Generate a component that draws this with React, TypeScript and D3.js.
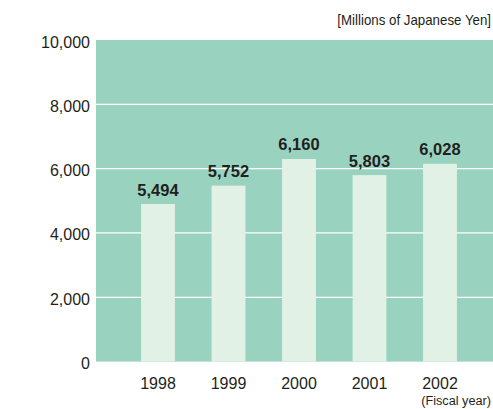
import React from "react";
import * as d3 from "d3";

const years = ["1998", "1999", "2000", "2001", "2002"];
// bar heights as drawn in the reference
const barValues = [4900, 5470, 6300, 5800, 6150];
// printed value labels
const valueLabels = ["5,494", "5,752", "6,160", "5,803", "6,028"];
const yTicks = [0, 2000, 4000, 6000, 8000, 10000];
const unitLabel = "[Millions of Japanese Yen]";
const xAxisTitle = "(Fiscal year)";

const W = 493;
const H = 409;
const plotLeft = 96;
const plotRight = 493;

export default function App() {
  const y = d3.scaleLinear().domain([0, 10000]).range([361.6, 40]);
  const x = d3
    .scaleBand<string>()
    .domain(years)
    .range([122.75, 475.25])
    .paddingInner(0.52)
    .paddingOuter(0.26);
  const fmt = d3.format(",");
  const font = "Liberation Sans, Arial, Helvetica, sans-serif";
  const textColor = "#231f20";

  return (
    <svg
      width={W}
      height={H}
      style={{ position: "absolute", left: 0, top: 0 }}
      fontFamily={font}
    >
      <rect
        x={plotLeft}
        y={y(10000)}
        width={plotRight - plotLeft}
        height={y(0) - y(10000)}
        fill="#99d3c0"
      />
      {yTicks
        .filter((t) => t > 0 && t < 10000)
        .map((t) => (
          <line
            key={"g" + t}
            x1={plotLeft}
            x2={plotRight}
            y1={y(t)}
            y2={y(t)}
            stroke="#ffffff"
            strokeWidth={1.2}
          />
        ))}
      {yTicks.map((t) => (
        <text
          key={"yt" + t}
          x={90}
          y={y(t) + 7.5}
          textAnchor="end"
          fontSize={16}
          fill={textColor}
        >
          {fmt(t)}
        </text>
      ))}
      {years.map((yr, i) => (
        <rect
          key={"b" + yr}
          x={x(yr)}
          y={y(barValues[i])}
          width={x.bandwidth()}
          height={y(0) - y(barValues[i])}
          fill="#e1f1e6"
        />
      ))}
      {years.map((yr, i) => (
        <text
          key={"v" + yr}
          x={(x(yr) as number) + x.bandwidth() / 2}
          y={y(barValues[i]) - 8.5}
          textAnchor="middle"
          fontSize={16.5}
          fontWeight="bold"
          fill={textColor}
        >
          {valueLabels[i]}
        </text>
      ))}
      {years.map((yr) => (
        <text
          key={"x" + yr}
          x={(x(yr) as number) + x.bandwidth() / 2}
          y={389}
          textAnchor="middle"
          fontSize={16}
          fill={textColor}
        >
          {yr}
        </text>
      ))}
      <g transform="translate(491,25) scale(0.95,1)">
        <text x={0} y={0} textAnchor="end" fontSize={14} fill={textColor}>
          {unitLabel}
        </text>
      </g>
      <g transform="translate(491,405) scale(0.94,1)">
        <text x={0} y={0} textAnchor="end" fontSize={13.5} fill={textColor}>
          {xAxisTitle}
        </text>
      </g>
    </svg>
  );
}
